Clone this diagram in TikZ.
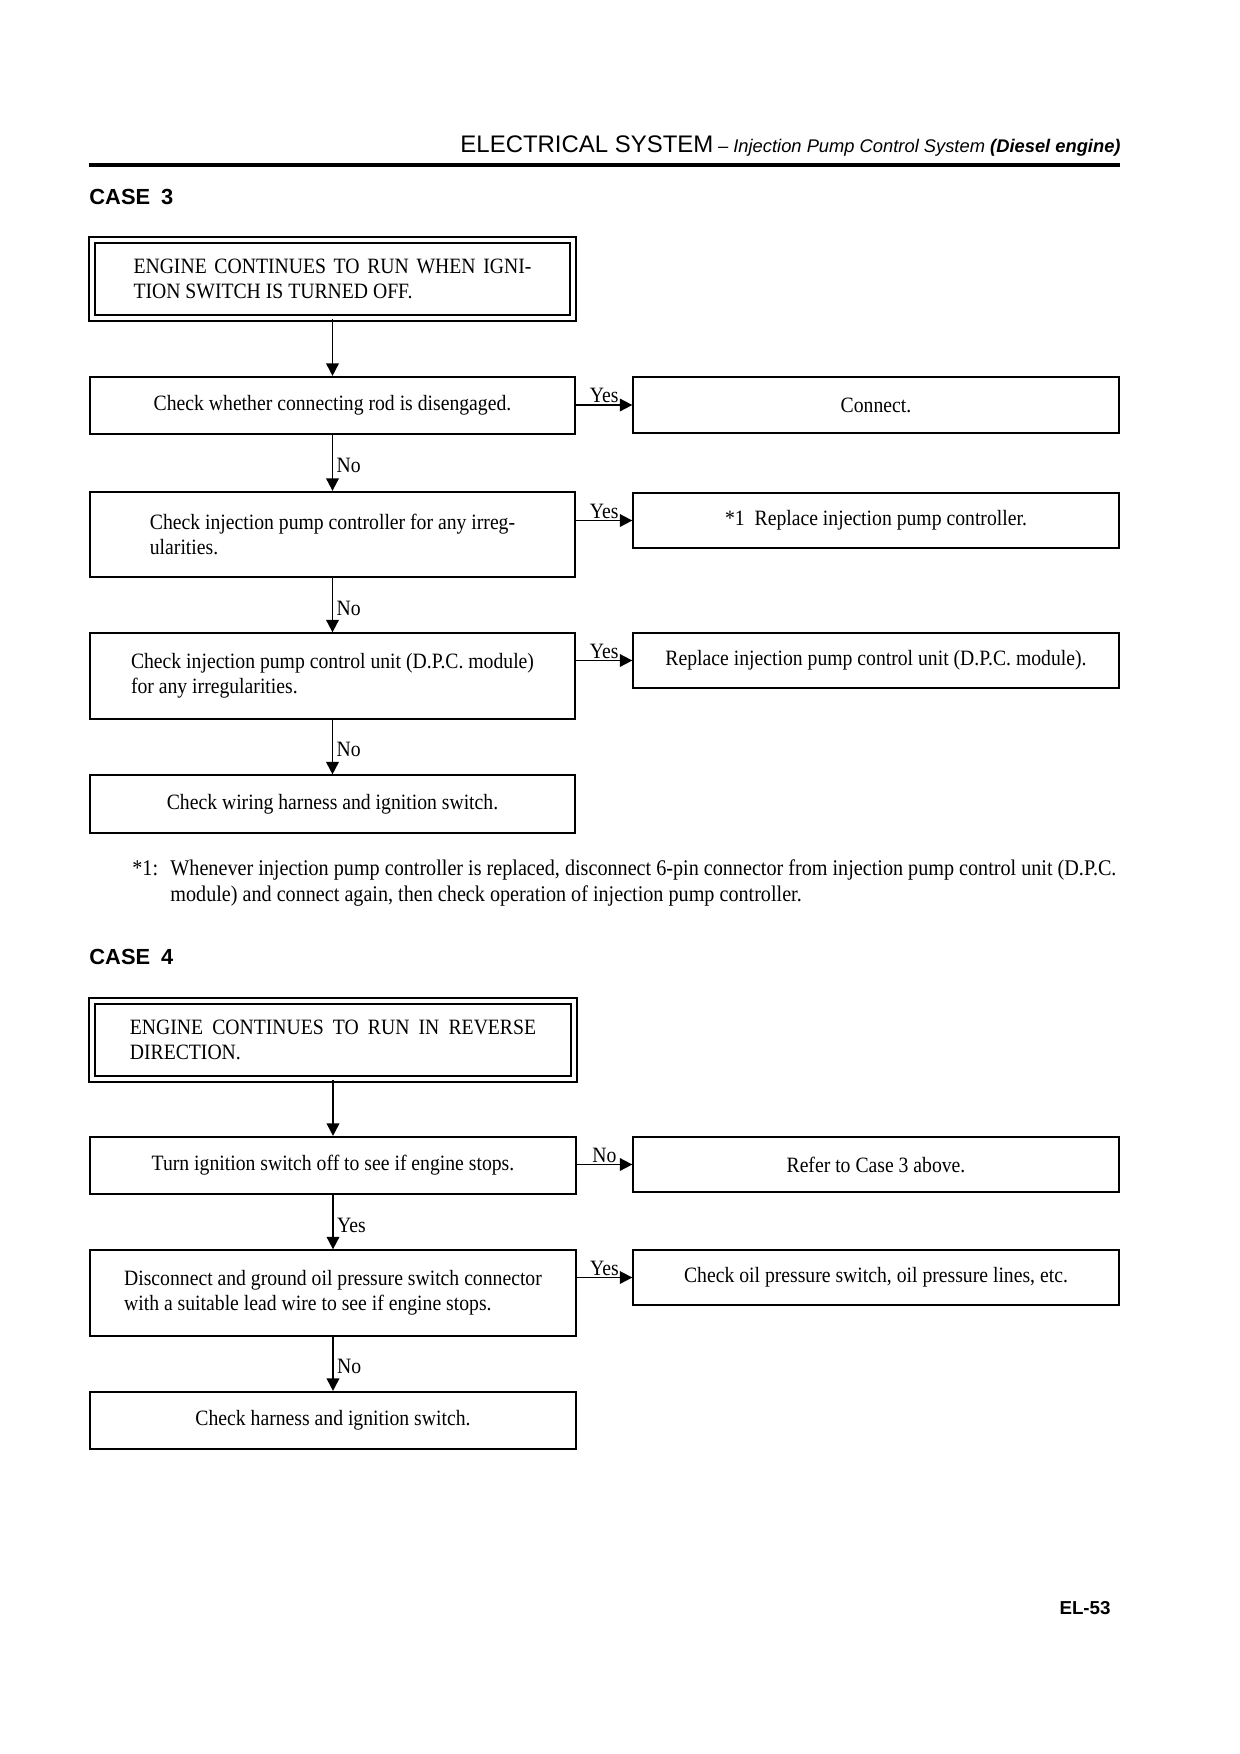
\documentclass[tikz,border=0pt]{standalone}
\usepackage{fontspec}
\setmainfont{Liberation Serif}[FakeStretch=0.9]
\setsansfont{Liberation Sans}
\usetikzlibrary{arrows.meta}
\tikzset{
  chkbox/.style={draw, line width=0.9pt, minimum width=233pt, minimum height=27.5pt, inner sep=2pt, align=left, font=\fontsize{10.5}{12}\selectfont},
  tallbox/.style={chkbox, minimum height=41pt},
  actbox/.style={chkbox, minimum height=26.8pt, align=center},
  casebox/.style={chkbox, double, double distance=2pt, minimum width=231pt, minimum height=37.4pt, text width=#1, align=justify},
  flow/.style={line width=0.9pt, -{Triangle[length=6pt,width=6pt]}},
  hlbl/.style={above, inner sep=0.6pt, font=\fontsize{10.5}{12}\selectfont},
  vlbl/.style={right, inner sep=1.5pt, pos=0.55, font=\fontsize{10.5}{12}\selectfont},
  casehead/.style={anchor=base west, inner sep=0pt, font=\sffamily\bfseries\fontsize{10.5}{12}\selectfont},
  fnote/.style={anchor=base west, inner sep=0pt, font=\fontsize{10.75}{12}\selectfont}
}

\begin{document}
\begin{tikzpicture}[x=0.48pt,y=-0.48pt]

\useasboundingbox (0,0) rectangle (1240,1754);

% page head
\node [anchor=base east, inner sep=0pt] (title) at (1121,152) {{\sffamily\fontsize{11.5}{14}\selectfont ELECTRICAL SYSTEM} {\sffamily\itshape\fontsize{8.8}{10}\selectfont -- Injection Pump Control System \textbf{(Diesel engine)}}};
\draw [line width=1.9pt] (89,165) -- (1120,165);

% case 3
\node [casehead] (case3) at (89,204) {CASE\enspace 3};
\node [casebox=191pt] (b1) at (332.5,279) {ENGINE CONTINUES TO RUN WHEN IGNI-\linebreak TION SWITCH IS TURNED OFF.};
\node [chkbox] (b2) at (332.5,405.5) {Check whether connecting rod is disengaged.};
\node [actbox] (r1) at (876,405) {Connect.};
\node [tallbox] (b3) at (332.5,534.5) {Check injection pump controller for any irreg-\\ularities.};
\node [actbox] (r2) at (876,520.5) {*1\ \ Replace injection pump controller.};
\node [tallbox] (b4) at (332.5,676) {Check injection pump control unit (D.P.C. module)\\for any irregularities.};
\node [actbox] (r3) at (876,660.5) {Replace injection pump control unit (D.P.C. module).};
\node [chkbox] (b5) at (332.5,804) {Check wiring harness and ignition switch.};

\node [fnote] (fn) at (132,875) {*1:};
\node [fnote] (fn1) at (170,875) {Whenever injection pump controller is replaced, disconnect 6-pin connector from injection pump control unit (D.P.C.};
\node [fnote] (fn2) at (170,901) {module) and connect again, then check operation of injection pump controller.};

% case 4
\node [casehead] (case4) at (89,964) {CASE\enspace 4};
\node [casebox=195pt] (b6) at (333,1040) {ENGINE CONTINUES TO RUN IN REVERSE\linebreak DIRECTION.};
\node [chkbox] (b7) at (333,1165.5) {Turn ignition switch off to see if engine stops.};
\node [actbox] (r4) at (876,1164.5) {Refer to Case 3 above.};
\node [tallbox] (b8) at (333,1293) {Disconnect and ground oil pressure switch connector\\with a suitable lead wire to see if engine stops.};
\node [actbox] (r5) at (876,1277.5) {Check oil pressure switch, oil pressure lines, etc.};
\node [chkbox] (b9) at (333,1420.5) {Check harness and ignition switch.};

\foreach \a/\b in {b1/b2, b6/b7} {\draw [flow] (\a.south) -- (\b.north);}
\foreach \a/\b/\t in {b2/b3/No, b3/b4/No, b4/b5/No, b7/b8/Yes, b8/b9/No} {\draw [flow] (\a.south) -- node [vlbl] {\t} (\b.north);}
\foreach \a/\b/\t in {b2/r1/Yes, b3/r2/Yes, b4/r3/Yes, b7/r4/No, b8/r5/Yes} {\draw [flow] (\b.west -| \a.east) -- node [hlbl] {\t} (\b.west);}

\node [anchor=base east, inner sep=0pt, font=\sffamily\bfseries\fontsize{9}{11}\selectfont] (page) at (1111,1614) {EL-53};

\end{tikzpicture}
\end{document}
